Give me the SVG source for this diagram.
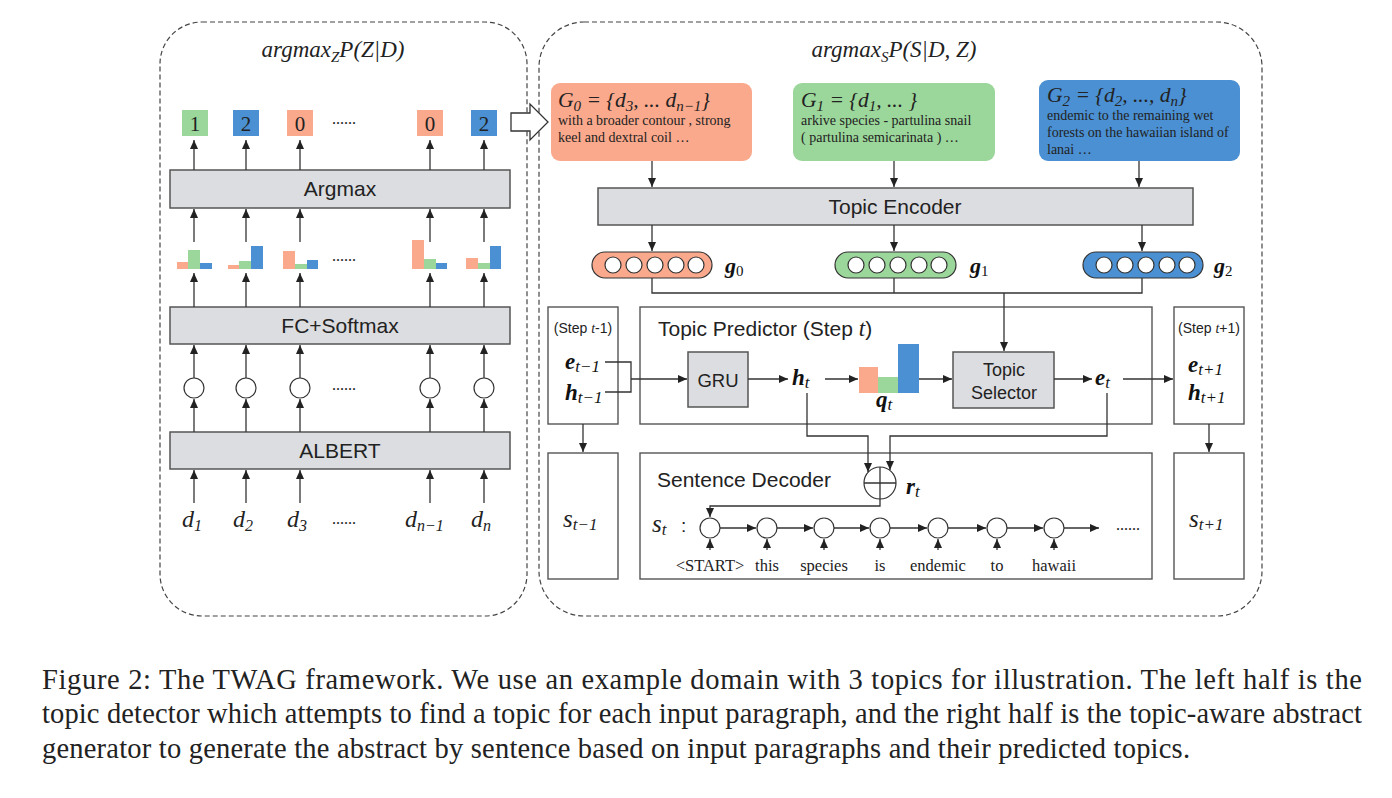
<svg xmlns="http://www.w3.org/2000/svg" width="1392" height="798" viewBox="0 0 1392 798">
<style>
.panel{fill:none;stroke:#444;stroke-width:1.2;stroke-dasharray:5 3}
.box{fill:#dcdde0;stroke:#555;stroke-width:1.5}
.wbox{fill:#fff;stroke:#555;stroke-width:1.4}
.ln{fill:none;stroke:#333;stroke-width:1.3}
.arr{fill:none;stroke:#333;stroke-width:1.3;marker-end:url(#ah)}
.sans{font-family:"Liberation Sans",Arial,sans-serif;fill:#222}
.ser{font-family:"Liberation Serif","Times New Roman",serif;fill:#222}
.math{font-family:"Liberation Serif","Times New Roman",serif;font-style:italic;fill:#222}
.mb{font-family:"Liberation Serif","Times New Roman",serif;font-style:italic;font-weight:bold;fill:#111}
.sal{fill:#fba98c}.grn{fill:#9bd69a}.blu{fill:#4a90d2}
.cir{fill:#fff;stroke:#333;stroke-width:1.2}
</style>
<defs>
<marker id="ah" markerUnits="userSpaceOnUse" markerWidth="9" markerHeight="8" refX="9" refY="4" orient="auto">
<path d="M0,0 L9,4 L0,8 z" fill="#222"/>
</marker>
</defs>
<rect width="1392" height="798" fill="#fff"/>

<g id="left-panel">
<rect class="panel" x="160" y="22" width="367" height="594" rx="42"/>
<text class="math" x="333" y="57" font-size="23" text-anchor="middle">argmax<tspan font-size="15" dy="5">Z</tspan><tspan dy="-5">P(Z|D)</tspan></text>
</g>
<g id="right-panel">
<rect class="panel" x="539" y="22" width="723" height="594" rx="45"/>
<text class="math" x="894" y="57" font-size="23" text-anchor="middle">argmax<tspan font-size="15" dy="5">S</tspan><tspan dy="-5">P(S|D, Z)</tspan></text>
</g>

<g id="topic-labels">
<rect class="grn" x="182" y="110" width="26" height="26"/>
<rect class="blu" x="233" y="110" width="26" height="26"/>
<rect class="sal" x="287" y="110" width="26" height="26"/>
<rect class="sal" x="417" y="110" width="26" height="26"/>
<rect class="blu" x="471" y="110" width="26" height="26"/>
<g class="ser" font-size="21" text-anchor="middle">
<text x="195" y="131">1</text><text x="246" y="131">2</text><text x="300" y="131">0</text><text x="430" y="131">0</text><text x="484" y="131">2</text>
</g>
<text class="ser" x="344" y="124" font-size="16" text-anchor="middle">......</text>
</g>

<g id="argmax"><rect class="box" x="170" y="170" width="340" height="38"/><text class="sans" x="340" y="196" font-size="21" text-anchor="middle">Argmax</text></g>

<g id="bars">
<rect class="sal" x="177" y="262" width="11" height="7"/><rect class="grn" x="188" y="250" width="12" height="19"/><rect class="blu" x="200" y="263" width="12" height="6"/>
<rect class="sal" x="228" y="265" width="11" height="4"/><rect class="grn" x="239" y="261" width="12" height="8"/><rect class="blu" x="251" y="246" width="12" height="23"/>
<rect class="sal" x="283" y="251" width="12" height="18"/><rect class="grn" x="295" y="264" width="12" height="5"/><rect class="blu" x="307" y="260" width="11" height="9"/>
<rect class="sal" x="412" y="240" width="12" height="29"/><rect class="grn" x="424" y="259" width="12" height="10"/><rect class="blu" x="436" y="263" width="11" height="6"/>
<rect class="sal" x="466" y="258" width="12" height="11"/><rect class="grn" x="478" y="263" width="12" height="6"/><rect class="blu" x="490" y="246" width="11" height="23"/>
<text class="ser" x="344" y="261" font-size="16" text-anchor="middle">......</text>
</g>

<g id="fc-softmax"><rect class="box" x="170" y="307" width="340" height="37"/><text class="sans" x="340" y="333" font-size="21" text-anchor="middle">FC+Softmax</text></g>

<g id="embeddings">
<circle class="cir" cx="194" cy="388" r="10"/><circle class="cir" cx="246" cy="388" r="10"/><circle class="cir" cx="300" cy="388" r="10"/><circle class="cir" cx="430" cy="388" r="10"/><circle class="cir" cx="484" cy="388" r="10"/>
<text class="ser" x="344" y="390" font-size="16" text-anchor="middle">......</text>
</g>

<g id="albert"><rect class="box" x="170" y="432" width="340" height="37"/><text class="sans" x="340" y="458" font-size="21" text-anchor="middle">ALBERT</text></g>

<g id="inputs" class="math" font-size="24">
<text x="182" y="527">d<tspan font-size="16" dy="4">1</tspan></text>
<text x="233" y="527">d<tspan font-size="16" dy="4">2</tspan></text>
<text x="287" y="527">d<tspan font-size="16" dy="4">3</tspan></text>
<text x="405" y="527">d<tspan font-size="16" dy="4">n−1</tspan></text>
<text x="471" y="527">d<tspan font-size="16" dy="4">n</tspan></text>
<text class="ser" x="344" y="524" font-size="16" text-anchor="middle" font-style="normal">......</text>
</g>

<g id="transfer-arrow">
<polygon points="511,113 530,113 530,104 548,122 530,140 530,131 511,131" fill="#fff" stroke="#333" stroke-width="1.3"/>
</g>

<g id="G0">
<rect class="sal" x="551" y="83" width="201" height="78" rx="9"/>
<text class="math" x="558" y="107" font-size="21.5">G<tspan font-size="15" dy="4">0</tspan><tspan dy="-4"> = {d</tspan><tspan font-size="15" dy="4">3</tspan><tspan dy="-4">, ... d</tspan><tspan font-size="15" dy="4">n−1</tspan><tspan dy="-4">}</tspan></text>
<text class="ser" x="558" y="125" font-size="14">with a broader contour , strong</text>
<text class="ser" x="558" y="142" font-size="14">keel and dextral coil …</text>
</g>
<g id="G1">
<rect class="grn" x="793" y="83" width="202" height="78" rx="9"/>
<text class="math" x="801" y="107" font-size="21.5">G<tspan font-size="15" dy="4">1</tspan><tspan dy="-4"> = {d</tspan><tspan font-size="15" dy="4">1</tspan><tspan dy="-4">, ... }</tspan></text>
<text class="ser" x="801" y="125" font-size="14">arkive species - partulina snail</text>
<text class="ser" x="801" y="142" font-size="14">( partulina semicarinata ) …</text>
</g>
<g id="G2">
<rect class="blu" x="1039" y="80" width="201" height="81" rx="9"/>
<text class="math" x="1047" y="102" font-size="21.5">G<tspan font-size="15" dy="4">2</tspan><tspan dy="-4"> = {d</tspan><tspan font-size="15" dy="4">2</tspan><tspan dy="-4">, ..., d</tspan><tspan font-size="15" dy="4">n</tspan><tspan dy="-4">}</tspan></text>
<text class="ser" x="1047" y="120" font-size="14">endemic to the remaining wet</text>
<text class="ser" x="1047" y="137" font-size="14">forests on the hawaiian island of</text>
<text class="ser" x="1047" y="154" font-size="14">lanai …</text>
</g>

<g id="topic-encoder"><rect class="box" x="598" y="188" width="595" height="37"/><text class="sans" x="895" y="214" font-size="21" text-anchor="middle">Topic Encoder</text></g>

<g id="g0">
<rect class="sal" x="592" y="252" width="120" height="26" rx="13" stroke="#333" stroke-width="1.2"/>
<g class="cir"><circle cx="613" cy="265" r="8"/><circle cx="634" cy="265" r="8"/><circle cx="655" cy="265" r="8"/><circle cx="676" cy="265" r="8"/><circle cx="696" cy="265" r="8"/></g>
<text class="mb" x="725" y="273" font-size="22">g<tspan font-size="15" font-weight="normal" font-style="normal" dy="3">0</tspan></text>
</g>
<g id="g1">
<rect class="grn" x="835" y="252" width="121" height="26" rx="13" stroke="#333" stroke-width="1.2"/>
<g class="cir"><circle cx="856" cy="265" r="8"/><circle cx="877" cy="265" r="8"/><circle cx="898" cy="265" r="8"/><circle cx="919" cy="265" r="8"/><circle cx="939" cy="265" r="8"/></g>
<text class="mb" x="970" y="273" font-size="22">g<tspan font-size="15" font-weight="normal" font-style="normal" dy="3">1</tspan></text>
</g>
<g id="g2">
<rect class="blu" x="1083" y="252" width="120" height="26" rx="13" stroke="#333" stroke-width="1.2"/>
<g class="cir"><circle cx="1104" cy="265" r="8"/><circle cx="1125" cy="265" r="8"/><circle cx="1146" cy="265" r="8"/><circle cx="1167" cy="265" r="8"/><circle cx="1187" cy="265" r="8"/></g>
<text class="mb" x="1214" y="273" font-size="22">g<tspan font-size="15" font-weight="normal" font-style="normal" dy="3">2</tspan></text>
</g>

<g id="step-prev">
<rect class="wbox" x="548" y="307" width="70" height="117"/>
<text class="sans" x="583" y="333" font-size="14" text-anchor="middle">(Step <tspan class="math">t</tspan>-1)</text>
<text class="mb" x="565" y="369" font-size="23">e<tspan font-size="17" font-weight="normal" dy="3">t−1</tspan></text>
<text class="mb" x="565" y="400" font-size="23">h<tspan font-size="17" font-weight="normal" dy="3">t−1</tspan></text>
</g>

<g id="topic-predictor">
<rect class="wbox" x="640" y="307" width="512" height="117"/>
<text class="sans" x="658" y="336" font-size="21">Topic Predictor (Step <tspan class="math" font-size="23">t</tspan>)</text>
</g>

<g id="gru"><rect class="box" x="688" y="352" width="60" height="55"/><text class="sans" x="718" y="387" font-size="18.5" text-anchor="middle">GRU</text></g>
<g id="h_t"><text class="mb" x="792" y="385" font-size="23">h<tspan font-size="17" font-weight="normal" dy="3">t</tspan></text></g>
<g id="q_t">
<rect class="sal" x="859" y="367" width="19" height="26"/><rect class="grn" x="878" y="377" width="20" height="16"/><rect class="blu" x="898" y="344" width="21" height="49"/>
<text class="mb" x="876" y="407" font-size="23">q<tspan font-size="17" font-weight="normal" dy="3">t</tspan></text>
</g>
<g id="topic-selector"><rect class="box" x="953" y="352" width="101" height="56"/>
<text class="sans" x="1004" y="376" font-size="18" text-anchor="middle">Topic</text>
<text class="sans" x="1004" y="399" font-size="18" text-anchor="middle">Selector</text></g>
<g id="e_t"><text class="mb" x="1095" y="385" font-size="23">e<tspan font-size="17" font-weight="normal" dy="3">t</tspan></text></g>

<g id="step-next">
<rect class="wbox" x="1174" y="307" width="70" height="117"/>
<text class="sans" x="1209" y="333" font-size="14" text-anchor="middle">(Step <tspan class="math">t</tspan>+1)</text>
<text class="mb" x="1188" y="372" font-size="23">e<tspan font-size="17" font-weight="normal" dy="3">t+1</tspan></text>
<text class="mb" x="1188" y="400" font-size="23">h<tspan font-size="17" font-weight="normal" dy="3">t+1</tspan></text>
</g>

<g id="s-prev"><rect class="wbox" x="548" y="453" width="70" height="126"/>
<text class="math" x="563" y="527" font-size="25">s<tspan font-size="17" dy="3">t−1</tspan></text></g>
<g id="s-next"><rect class="wbox" x="1174" y="453" width="70" height="126"/>
<text class="math" x="1189" y="527" font-size="25">s<tspan font-size="17" dy="3">t+1</tspan></text></g>

<g id="sentence-decoder">
<rect class="wbox" x="640" y="453" width="512" height="126"/>
<text class="sans" x="657" y="487" font-size="21">Sentence Decoder</text>
<text class="math" x="652" y="532" font-size="25">s<tspan font-size="17" dy="3">t</tspan></text>
<text class="sans" x="681" y="532" font-size="19">:</text>
<g class="cir">
<circle cx="710" cy="528" r="10"/><circle cx="767" cy="528" r="10"/><circle cx="824" cy="528" r="10"/><circle cx="880" cy="528" r="10"/><circle cx="938" cy="528" r="10"/><circle cx="997" cy="528" r="10"/><circle cx="1054" cy="528" r="10"/>
</g>
<g class="ser" font-size="16.5" text-anchor="middle">
<text x="710" y="571">&lt;START&gt;</text><text x="767" y="571">this</text><text x="824" y="571">species</text><text x="880" y="571">is</text><text x="938" y="571">endemic</text><text x="997" y="571">to</text><text x="1054" y="571">hawaii</text>
</g>
<text class="ser" x="1128" y="530" font-size="16" text-anchor="middle">......</text>
</g>

<g id="combine">
<circle class="cir" cx="880" cy="483" r="16"/>
<path class="ln" d="M864,483 H896 M880,467 V499"/>
<text class="mb" x="906" y="494" font-size="23">r<tspan font-size="17" font-weight="normal" dy="3">t</tspan></text>
</g>

<g id="connectors">
<line class="arr" x1="194" y1="170" x2="194" y2="140"/><line class="arr" x1="246" y1="170" x2="246" y2="140"/><line class="arr" x1="300" y1="170" x2="300" y2="140"/><line class="arr" x1="430" y1="170" x2="430" y2="140"/><line class="arr" x1="484" y1="170" x2="484" y2="140"/>
<line class="arr" x1="194" y1="242" x2="194" y2="209"/><line class="arr" x1="246" y1="242" x2="246" y2="209"/><line class="arr" x1="300" y1="242" x2="300" y2="209"/><line class="arr" x1="430" y1="242" x2="430" y2="209"/><line class="arr" x1="484" y1="242" x2="484" y2="209"/>
<line class="arr" x1="194" y1="307" x2="194" y2="273"/><line class="arr" x1="246" y1="307" x2="246" y2="273"/><line class="arr" x1="300" y1="307" x2="300" y2="273"/><line class="arr" x1="430" y1="307" x2="430" y2="273"/><line class="arr" x1="484" y1="307" x2="484" y2="273"/>
<line class="arr" x1="194" y1="378" x2="194" y2="345"/><line class="arr" x1="246" y1="378" x2="246" y2="345"/><line class="arr" x1="300" y1="378" x2="300" y2="345"/><line class="arr" x1="430" y1="378" x2="430" y2="345"/><line class="arr" x1="484" y1="378" x2="484" y2="345"/>
<line class="arr" x1="194" y1="432" x2="194" y2="399"/><line class="arr" x1="246" y1="432" x2="246" y2="399"/><line class="arr" x1="300" y1="432" x2="300" y2="399"/><line class="arr" x1="430" y1="432" x2="430" y2="399"/><line class="arr" x1="484" y1="432" x2="484" y2="399"/>
<line class="arr" x1="194" y1="503" x2="194" y2="470"/><line class="arr" x1="246" y1="503" x2="246" y2="470"/><line class="arr" x1="300" y1="503" x2="300" y2="470"/><line class="arr" x1="430" y1="503" x2="430" y2="470"/><line class="arr" x1="484" y1="503" x2="484" y2="470"/>
<line class="arr" x1="652" y1="161" x2="652" y2="187"/><line class="arr" x1="894" y1="161" x2="894" y2="187"/><line class="arr" x1="1139" y1="161" x2="1139" y2="187"/>
<line class="arr" x1="652" y1="225" x2="652" y2="251"/><line class="arr" x1="894" y1="225" x2="894" y2="251"/><line class="arr" x1="1142" y1="225" x2="1142" y2="251"/>
<path class="ln" d="M652,278 V293 H1142 V278 M894,278 V293"/>
<line class="arr" x1="1004" y1="293" x2="1004" y2="351"/>
<path class="ln" d="M605,362 H631 V392 H605"/>
<line class="arr" x1="631" y1="379" x2="687" y2="379"/>
<line class="arr" x1="748" y1="379" x2="788" y2="379"/>
<line class="arr" x1="825" y1="379" x2="858" y2="379"/>
<line class="arr" x1="919" y1="379" x2="952" y2="379"/>
<line class="arr" x1="1054" y1="379" x2="1092" y2="379"/>
<line class="arr" x1="1123" y1="379" x2="1173" y2="379"/>
<line class="arr" x1="583" y1="424" x2="583" y2="452"/>
<line class="arr" x1="1209" y1="424" x2="1209" y2="452"/>
<path class="arr" d="M807,393 V436 H868 V472"/>
<path class="arr" d="M1107,393 V436 H890 V470"/>
<path class="arr" d="M880,499 V506 H710 V517"/>
<line class="arr" x1="720" y1="528" x2="756" y2="528"/><line class="arr" x1="777" y1="528" x2="813" y2="528"/><line class="arr" x1="834" y1="528" x2="869" y2="528"/><line class="arr" x1="890" y1="528" x2="927" y2="528"/><line class="arr" x1="948" y1="528" x2="986" y2="528"/><line class="arr" x1="1007" y1="528" x2="1043" y2="528"/><line class="arr" x1="1064" y1="528" x2="1099" y2="528"/>
<line class="arr" x1="710" y1="550" x2="710" y2="539"/><line class="arr" x1="767" y1="550" x2="767" y2="539"/><line class="arr" x1="824" y1="550" x2="824" y2="539"/><line class="arr" x1="880" y1="550" x2="880" y2="539"/><line class="arr" x1="938" y1="550" x2="938" y2="539"/><line class="arr" x1="997" y1="550" x2="997" y2="539"/><line class="arr" x1="1054" y1="550" x2="1054" y2="539"/>
</g>

<g id="caption" class="ser" font-size="28.5" fill="#111">
<text x="42" y="689" textLength="1320" lengthAdjust="spacing">Figure 2: The TWAG framework.  We use an example domain with 3 topics for illustration.  The left half is the</text>
<text x="42" y="723" textLength="1320" lengthAdjust="spacing">topic detector which attempts to find a topic for each input paragraph, and the right half is the topic-aware abstract</text>
<text x="42" y="758" textLength="1148" lengthAdjust="spacing">generator to generate the abstract by sentence based on input paragraphs and their predicted topics.</text>
</g>
</svg>
